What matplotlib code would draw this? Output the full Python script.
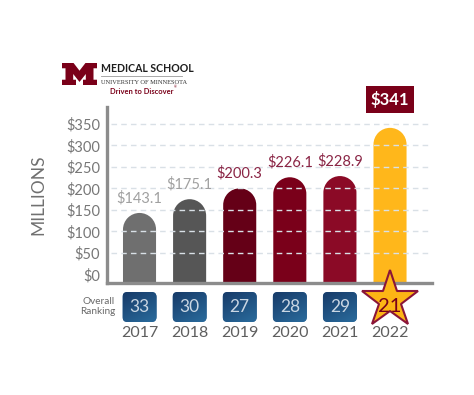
import matplotlib
matplotlib.use("Agg")
import matplotlib.pyplot as plt
import numpy as np
from matplotlib.path import Path
from matplotlib.patches import PathPatch, FancyBboxPatch, Polygon
from matplotlib.colors import LinearSegmentedColormap

# ---------------- data ----------------
years = ["2017", "2018", "2019", "2020", "2021", "2022"]
funding = [143.1, 175.1, 200.3, 226.1, 228.9, 341]
value_labels = ["$143.1", "$175.1", "$200.3", "$226.1", "$228.9", "$341"]
rankings = [33, 30, 27, 28, 29, 21]
yticks = [0, 50, 100, 150, 200, 250, 300, 350]
ytick_labels = ["$0", "$50", "$100", "$150", "$200", "$250", "$300", "$350"]

bar_colors = ["#6f6f6f", "#565656", "#650017", "#7a001a", "#8b0a26", "#ffb71b"]
label_colors = ["#a0a0a0", "#a0a0a0", "#8a2545", "#8a2545", "#8a2545", "#ffffff"]

FONT = "Lato"
W, H = 474, 395
fig = plt.figure(figsize=(W / 100, H / 100), dpi=100)
fig.patch.set_facecolor("white")

def fx(px):
    return px / W

def fy(py):
    return (H - py) / H

# ---------------- main axes ----------------
ax_l, ax_r, ax_t, ax_b = 107, 432, 107, 283
ax = fig.add_axes([fx(ax_l), fy(ax_b), fx(ax_r - ax_l), (ax_b - ax_t) / H])
ymin, ymax = -19.8, 389.5
xmin, xmax = -0.649, 5.838
ax.set_xlim(xmin, xmax)
ax.set_ylim(ymin, ymax)
ax.set_facecolor("white")

for s in ["top", "right"]:
    ax.spines[s].set_visible(False)
for s in ["left", "bottom"]:
    ax.spines[s].set_color("#8c8c8c")
    ax.spines[s].set_linewidth(2.4)

ax.set_xticks([])
ax.set_yticks(yticks)
ax.set_yticklabels(ytick_labels, fontfamily=FONT, fontsize=10.5, color="#777777")
ax.tick_params(axis="y", length=0, pad=5)

# pixel per data unit
px_per_x = (ax_r - ax_l) / (xmax - xmin)
px_per_y = (ax_b - ax_t) / (ymax - ymin)

bw = 0.66
ry = (bw / 2 * px_per_x) / px_per_y  # radius of rounded top in y data units

for i, (v, c) in enumerate(zip(funding, bar_colors)):
    arc = Path.arc(0, 180)
    verts = arc.vertices * np.array([bw / 2, ry]) + np.array([i, v - ry])
    codes = list(arc.codes)
    all_verts = [(i + bw / 2, ymin)] + [tuple(p) for p in verts] + [(i - bw / 2, ymin), (i + bw / 2, ymin)]
    all_codes = [Path.MOVETO] + [Path.LINETO] + codes[1:] + [Path.LINETO, Path.CLOSEPOLY]
    patch = PathPatch(Path(all_verts, all_codes), facecolor=c, edgecolor="none", zorder=2)
    ax.add_patch(patch)

# gridlines above bars
for y in yticks[1:]:
    ax.axhline(y, xmin=0.012, xmax=1.0, color="#d9e0e6", lw=1.0, dashes=(4, 3), zorder=3)

# value labels
for i, (v, lab, lc) in enumerate(zip(funding, value_labels, label_colors)):
    if i == len(funding) - 1:
        ax.annotate(lab, (i, v), xytext=(0, 28 * 0.72), textcoords="offset points",
                    ha="center", va="center", fontfamily=FONT, fontweight="bold",
                    fontsize=12, color="white", zorder=5, annotation_clip=False,
                    bbox=dict(boxstyle="square,pad=0.3", facecolor="#7a0019", edgecolor="none"))
    else:
        ax.annotate(lab, (i, v), xytext=(0, 15 * 0.72), textcoords="offset points",
                    ha="center", va="center", fontfamily=FONT, fontsize=10.5,
                    color=lc, zorder=5, annotation_clip=False)

# ---------------- ranking axes ----------------
r_t, r_b = 262, 345
rax = fig.add_axes([fx(ax_l), fy(r_b), fx(ax_r - ax_l), (r_b - r_t) / H], zorder=5)
rax.set_xlim(xmin, xmax)
rax.set_ylim(r_b, r_t)
rax.axis("off")
rax.patch.set_alpha(0)

box_w = 34 / px_per_x
box_h = 30
box_top = 292
cmap = LinearSegmentedColormap.from_list("rank", ["#173b69", "#2a6b9c"])
grad = np.add.outer(np.linspace(0, 1, 30), np.linspace(0, 0.6, 30))
grad = grad / grad.max()

for i, (yr, rk) in enumerate(zip(years, rankings)):
    if i < len(years) - 1:
        box = FancyBboxPatch((i - box_w / 2, box_top), box_w, box_h,
                             boxstyle="round,pad=0,rounding_size=%f" % (5 / px_per_x),
                             mutation_aspect=px_per_x, facecolor="#22578a",
                             edgecolor="none", zorder=2)
        rax.add_patch(box)
        im = rax.imshow(grad, cmap=cmap, extent=[i - box_w / 2, i + box_w / 2, box_top + box_h, box_top],
                        aspect="auto", zorder=2.5, interpolation="bilinear")
        im.set_clip_path(box)
        rax.text(i, box_top + box_h / 2 + 0.5, str(rk), ha="center", va="center",
                 fontfamily=FONT, fontsize=12.5, color="#c9d6e3", zorder=4)
    else:
        rax.plot(i, 300, marker="*", markersize=43, markerfacecolor="#fdb515",
                 markeredgecolor="#8a1538", markeredgewidth=1.5, zorder=3, clip_on=False)
        rax.text(i, 306, str(rk), ha="center", va="center", fontfamily=FONT,
                 fontsize=14.5, color="#7a0019", zorder=4)
    rax.text(i, 333, yr, ha="center", va="center", fontfamily=FONT,
             fontsize=11.5, color="#5e5e5e", zorder=4)

rax.set_xlim(xmin, xmax)
rax.set_ylim(r_b, r_t)

# ---------------- overlay (pixel coords) ----------------
ov = fig.add_axes([0, 0, 1, 1], zorder=0)
ov.set_xlim(0, W)
ov.set_ylim(H, 0)
ov.axis("off")
ov.patch.set_alpha(0)

ov.text(38, 195, "MILLIONS", rotation=90, ha="center", va="center",
        fontfamily=FONT, fontsize=12.5, color="#707070")
ov.text(115, 302, "Overall", ha="right", va="center", fontfamily=FONT,
        fontsize=7.2, color="#6a6a6a")
ov.text(115, 312, "Ranking", ha="right", va="center", fontfamily=FONT,
        fontsize=7.2, color="#6a6a6a")

# block M logo
m_shape = np.array([
    (0, 0), (0.33, 0), (0.5, 0.35), (0.67, 0), (1, 0), (1, 0.24), (0.9, 0.24),
    (0.9, 0.76), (1, 0.76), (1, 1), (0.6, 1), (0.6, 0.76), (0.68, 0.76), (0.68, 0.5),
    (0.5, 0.86), (0.32, 0.5), (0.32, 0.76), (0.4, 0.76), (0.4, 1), (0, 1), (0, 0.76),
    (0.1, 0.76), (0.1, 0.24), (0, 0.24)])
m_px = m_shape * np.array([35, 22]) + np.array([62, 63])
ov.add_patch(Polygon(m_px, closed=True, facecolor="#7a0019", edgecolor="none"))

ov.text(101, 69, "MEDICAL SCHOOL", ha="left", va="center", fontfamily=FONT,
        fontweight="bold", fontsize=7.6, color="#1e1e1e")
ov.plot([101, 182], [75.5, 75.5], color="#9a9a9a", lw=0.6)
ov.text(101, 82.5, "UNIVERSITY OF MINNESOTA", ha="left", va="center",
        fontfamily="Liberation Serif", fontsize=4.6, color="#333333")
ov.text(110, 91.5, "Driven to Discover", ha="left", va="center", fontfamily=FONT,
        fontweight="bold", fontsize=5.4, color="#7a0019")
ov.text(174, 87, "®", ha="left", va="center", fontfamily=FONT, fontsize=2.5, color="#7a0019")

fig.savefig("out.png", dpi=100, facecolor="white")
